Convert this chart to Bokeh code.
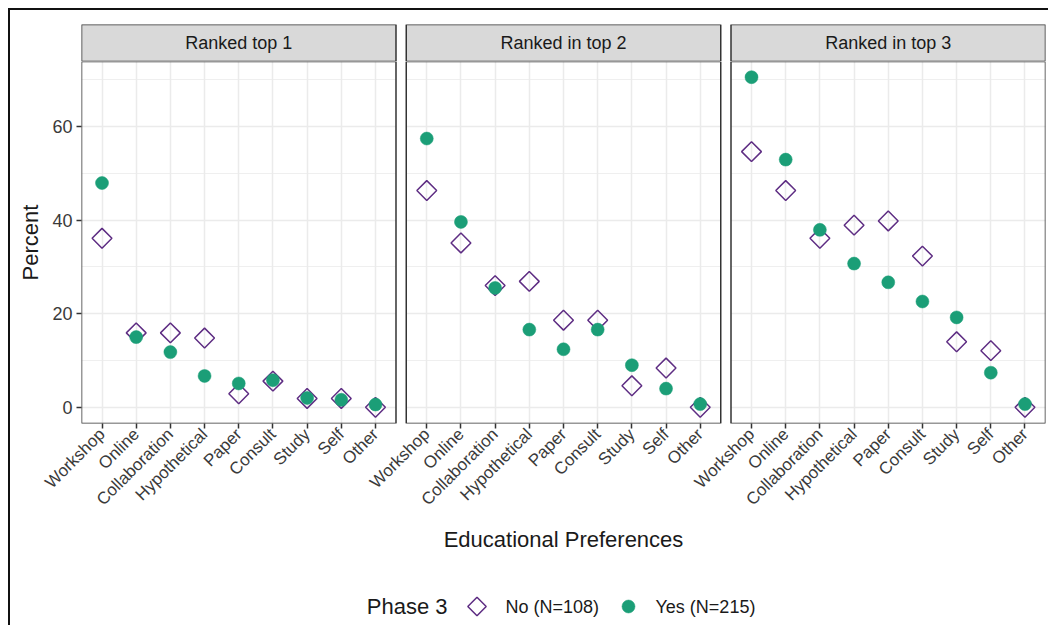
import math
from bokeh.plotting import figure
from bokeh.models import (Range1d, FixedTicker, SingleIntervalTicker, ColumnDataSource,
                          BoxAnnotation)
from bokeh.layouts import column
from bokeh.embed import file_html
from bokeh.resources import INLINE
from bokeh.core.properties import value

# ---------------- data ----------------
categories = ["Workshop", "Online", "Collaboration", "Hypothetical", "Paper",
              "Consult", "Study", "Self", "Other"]
panel_titles = ["Ranked top 1", "Ranked in top 2", "Ranked in top 3"]

no_top1 = [36.1, 15.9, 15.9, 14.8, 2.9, 5.6, 1.9, 1.9, 0.0]
yes_top1 = [47.9, 15.0, 11.8, 6.7, 5.1, 5.8, 2.0, 1.6, 0.6]
no_top2 = [46.3, 35.1, 26.0, 26.9, 18.6, 18.6, 4.6, 8.4, 0.0]
yes_top2 = [57.4, 39.6, 25.5, 16.6, 12.4, 16.6, 9.0, 4.0, 0.7]
no_top3 = [54.6, 46.3, 36.1, 38.9, 39.8, 32.3, 14.0, 12.1, 0.0]
yes_top3 = [70.5, 52.9, 37.9, 30.7, 26.7, 22.6, 19.2, 7.4, 0.7]

legend_title = "Phase 3"
legend_labels = ["No (N=108)", "Yes (N=215)"]
x_title = "Educational Preferences"
y_title = "Percent"

# ---------------- style ----------------
FONT = "Liberation Sans"
PURPLE = "#5E2D83"
GREEN = "#1B9E77"
GRID = "#EBEBEB"
DARK = "#333333"
TXT = "#1A1A1A"
TICKTXT = "#3A3A3A"

FRAME_W = 964
FRAME_H = 362
STRIP_H = 37
PANEL_BOTTOM = 128
BOTTOM_H = 72
LEFT = 71
RIGHT = 3

# facet geometry (in category units): each panel spans 9 categories + 0.6 padding each side
PAD = 0.6
GAP = 0.3
n = len(categories)
span = (n - 1) + 2 * PAD          # 9.2
step = span + GAP                  # 9.5
x_start = 1 - PAD
x_end = x_start + 3 * span + 2 * GAP

panel_series = [(no_top1, yes_top1), (no_top2, yes_top2), (no_top3, yes_top3)]

x_range = Range1d(x_start, x_end)
y_range = Range1d(-3.45, 73.85)

# ---------------- strips ----------------
strip = figure(frame_width=FRAME_W, frame_height=STRIP_H,
               min_border_left=LEFT, min_border_right=RIGHT,
               min_border_top=14, min_border_bottom=0,
               x_range=x_range, y_range=Range1d(0, 1),
               x_axis_type=None, y_axis_type=None,
               toolbar_location=None, output_backend="svg",
               outline_line_color=None)
centers = []
for k in range(3):
    left = x_start + k * step
    right = left + span
    centers.append((left + right) / 2)
    strip.add_layout(BoxAnnotation(left=left, right=right, fill_color="#D9D9D9", fill_alpha=1,
                                   line_color=DARK, line_alpha=1, line_width=1.5,
                                   level="underlay"))
strip.text(x=centers, y=[0.5] * 3, text=panel_titles, text_align="center",
           text_baseline="middle", text_font_size="18px", text_color=TXT,
           text_font=value(FONT))

# ---------------- panels (one frame, three facets) ----------------
p = figure(frame_width=FRAME_W, frame_height=FRAME_H,
           min_border_left=LEFT, min_border_right=RIGHT,
           min_border_top=0, min_border_bottom=PANEL_BOTTOM,
           x_range=x_range, y_range=y_range,
           toolbar_location=None, output_backend="svg",
           background_fill_color="white", outline_line_color=None)

all_ticks = []
all_labels = {}
for k, (no_vals, yes_vals) in enumerate(panel_series):
    xs = [k * step + j + 1 for j in range(n)]
    all_ticks += xs
    for x, c in zip(xs, categories):
        all_labels[x] = c
    src = ColumnDataSource(dict(x=xs, no=no_vals, yes=yes_vals))
    p.scatter(x="x", y="no", source=src, marker="square", angle=math.pi / 4, size=14,
              fill_color=None, line_color=PURPLE, line_width=1.5)
    p.scatter(x="x", y="yes", source=src, marker="circle", size=13,
              fill_color=GREEN, line_color=GREEN, line_width=0.5)

xt = FixedTicker(ticks=all_ticks)
yt = SingleIntervalTicker(interval=20, num_minor_ticks=2)

p.xaxis.ticker = xt
p.xaxis.major_label_overrides = all_labels
p.xaxis.major_label_orientation = math.pi / 4
p.xaxis.major_label_text_font_size = "17px"
p.xaxis.major_label_text_font = FONT
p.xaxis.major_label_text_color = TICKTXT
p.xaxis.major_label_standoff = 3
p.xaxis.axis_line_color = None
p.xaxis.major_tick_line_color = DARK
p.xaxis.major_tick_line_width = 1.5
p.xaxis.major_tick_out = 5
p.xaxis.major_tick_in = 0
p.xaxis.minor_tick_line_color = None
p.xaxis.axis_label = x_title
p.xaxis.axis_label_text_font_size = "22px"
p.xaxis.axis_label_text_font = FONT
p.xaxis.axis_label_text_font_style = "normal"
p.xaxis.axis_label_text_color = TXT
p.xaxis.axis_label_standoff = 8

p.yaxis.ticker = yt
p.yaxis.major_label_text_font_size = "18px"
p.yaxis.major_label_text_font = FONT
p.yaxis.major_label_text_color = TICKTXT
p.yaxis.major_label_standoff = 4
p.yaxis.axis_line_color = None
p.yaxis.major_tick_line_color = DARK
p.yaxis.major_tick_line_width = 1.5
p.yaxis.major_tick_out = 5
p.yaxis.major_tick_in = 0
p.yaxis.minor_tick_line_color = None
p.yaxis.axis_label = y_title
p.yaxis.axis_label_text_font_size = "22px"
p.yaxis.axis_label_text_font = FONT
p.yaxis.axis_label_text_font_style = "normal"
p.yaxis.axis_label_text_color = TXT
p.yaxis.axis_label_standoff = 6

p.xgrid.ticker = xt
p.ygrid.ticker = yt
p.xgrid.grid_line_color = GRID
p.xgrid.grid_line_width = 1.5
p.ygrid.grid_line_color = GRID
p.ygrid.grid_line_width = 1.5
p.ygrid.minor_grid_line_color = GRID
p.ygrid.minor_grid_line_width = 0.8

# white gaps between facets, then facet borders
for k in range(2):
    gl = x_start + k * step + span
    p.add_layout(BoxAnnotation(left=gl, right=gl + GAP, fill_color="white", fill_alpha=1,
                               line_color=None, level="underlay"))
for k in range(3):
    left = x_start + k * step
    p.add_layout(BoxAnnotation(left=left, right=left + span, fill_alpha=0,
                               line_color=DARK, line_alpha=1, line_width=1.5))

# ---------------- bottom legend (same frame geometry as the panels) ----------------
bottom = figure(frame_width=FRAME_W, frame_height=BOTTOM_H,
                min_border_left=LEFT, min_border_right=RIGHT,
                min_border_top=0, min_border_bottom=0,
                x_range=Range1d(0, FRAME_W), y_range=Range1d(0, BOTTOM_H),
                x_axis_type=None, y_axis_type=None, toolbar_location=None,
                output_backend="svg", outline_line_color=None)
KEY_Y = 20
bottom.text(x=[366], y=[KEY_Y], text=[legend_title], text_align="right",
            text_baseline="middle", text_font=value(FONT), text_font_size="22px",
            text_color=TXT)
bottom.scatter(x=[395.5], y=[KEY_Y], marker="square", angle=math.pi / 4, size=13,
               fill_color=None, line_color=PURPLE, line_width=1.5)
bottom.scatter(x=[547], y=[KEY_Y], marker="circle", size=13,
               fill_color=GREEN, line_color=GREEN, line_width=0.5)
bottom.text(x=[424, 574], y=[KEY_Y, KEY_Y], text=legend_labels, text_align="left",
            text_baseline="middle", text_font=value(FONT), text_font_size="18px",
            text_color=TXT)

layout = column(strip, p, bottom,
                styles={"margin-left": "8px", "margin-top": "8px",
                        "border-top": "2px solid #111111", "border-left": "2px solid #111111"})

open("out.html", "w").write(file_html(layout, INLINE))
